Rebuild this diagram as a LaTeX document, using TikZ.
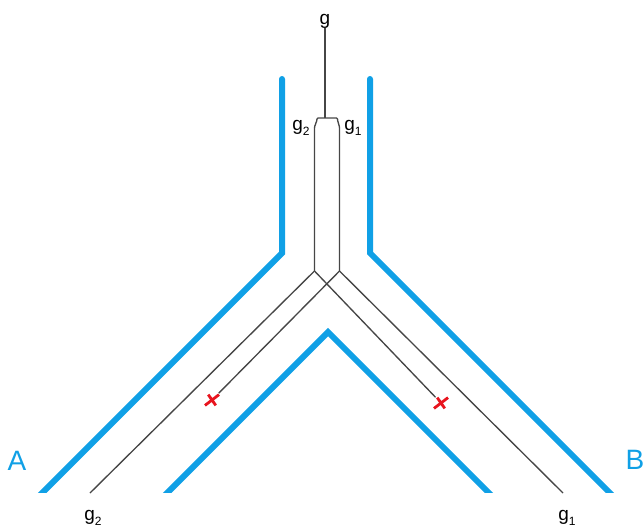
\documentclass[tikz,border=0pt]{standalone}
\usepackage{fontspec}
\setmainfont{Liberation Sans}
\usetikzlibrary{shapes.misc}
\definecolor{wall}{RGB}{16,160,230}
\definecolor{strand}{RGB}{70,70,70}
\definecolor{cut}{RGB}{232,20,30}
\newcommand{\gsub}[1]{g\raisebox{-0.45ex}{\fontsize{12}{12}\selectfont #1}}

\begin{document}
\begin{tikzpicture}[x=1pt, y=-1pt,
  wall/.style={draw=wall, line width=6pt, line cap=round},
  strand/.style={draw=strand, line width=1.35pt},
  lbl/.style={font=\fontsize{19}{19}\selectfont, inner sep=0pt},
  side/.style={font=\fontsize{28}{28}\selectfont, text=wall, inner sep=0pt},
  nick/.style={cross out, draw=cut, line width=2.8pt, minimum size=8pt, inner sep=0pt, xslant=0.3}]
  \useasboundingbox (0,0) rectangle (644,527);
  % tube walls, cut off flat at the bottom
  \begin{scope}
    \clip (0,0) rectangle (644,492);
    \draw[wall] (282,79) -- (282,253) -- (36,499);
    \draw[wall] (370,79) -- (370,253) -- (616,499);
    \draw[wall] (161,499) -- (328,332) -- (495,499);
  \end{scope}
  % labels
  \node[lbl] (g) at (325,21) {g};
  \node[lbl] (g2top) at (301,128) {\gsub{2}};
  \node[lbl] (g1top) at (353,128) {\gsub{1}};
  \node[lbl] (g2bot) at (93,518) {\gsub{2}};
  \node[lbl] (g1bot) at (567,518) {\gsub{1}};
  \node[side] (A) at (17,461) {A};
  \node[side] (B) at (635,460) {B};
  % split point and strands
  \coordinate (knot) at (325,118);
  \coordinate (lbot) at (314.5,271);
  \coordinate (rbot) at (339.5,271);
  \coordinate (lend) at (90,493);
  \coordinate (rend) at (563,493);
  \node[nick] (xl) at (212,400) {};
  \node[nick] (xr) at (441,403) {};
  \draw[strand] (g) -- (knot);
  \draw[strand, rounded corners=1pt] (lbot) -- (314.5,127) -- (317,120) -- (317,118)
    -- (337.5,118) -- (337.5,120) -- (339.5,127) -- (rbot);
  \draw[strand] (lbot) -- (lend);
  \draw[strand] (rbot) -- (rend);
  \draw[strand, shorten >=2pt] (lbot) -- (xr);
  \draw[strand, shorten >=2pt] (rbot) -- (xl);
\end{tikzpicture}
\end{document}
